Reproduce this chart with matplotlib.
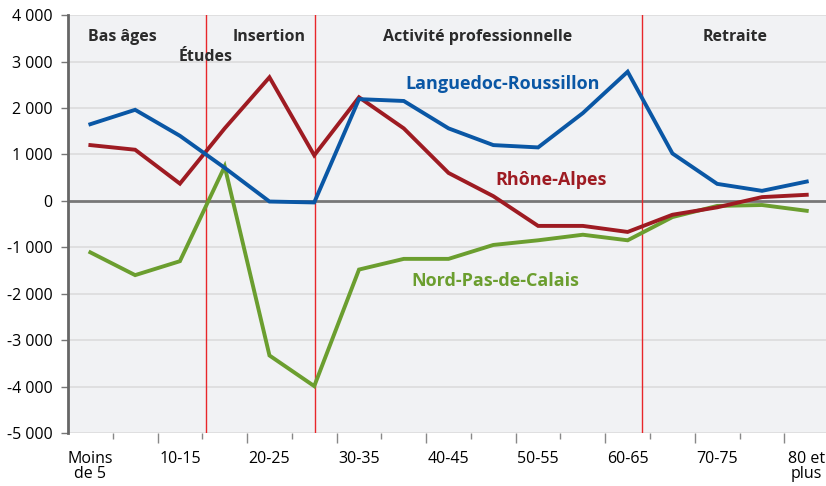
import matplotlib
matplotlib.use("Agg")
import matplotlib.pyplot as plt

categories = ["Moins de 5", "5-10", "10-15", "15-20", "20-25", "25-30", "30-35", "35-40",
              "40-45", "45-50", "50-55", "55-60", "60-65", "65-70", "70-75", "75-80", "80 et plus"]
tick_labels = ["Moins\nde 5", "10-15", "20-25", "30-35", "40-45", "50-55", "60-65", "70-75", "80 et\nplus"]

languedoc = [1650, 1960, 1400, 710, -15, -35, 2190, 2150, 1560, 1200, 1150, 1890, 2780, 1020, 365, 215, 415]
rhone = [1200, 1100, 370, 1560, 2660, 980, 2230, 1560, 600, 100, -540, -540, -670, -300, -140, 80, 130]
nord = [-1110, -1600, -1300, 740, -3330, -3990, -1480, -1250, -1250, -950, -850, -730, -850, -350, -110, -90, -215]

phase_bounds = [2.58, 5.02, 12.32]
phases = [("Bas âges", 0.72, 3530), ("Études", 2.58, 3100), ("Insertion", 4.0, 3530),
          ("Activité professionnelle", 8.65, 3530), ("Retraite", 14.4, 3530)]

yticks = list(range(-5000, 4001, 1000))

plt.rcParams['font.family'] = ['Open Sans', 'DejaVu Sans']

fig = plt.figure(figsize=(8.26, 4.86), dpi=100)
ax = fig.add_axes([0.0823, 0.109, 0.9177, 0.860])
ax.set_facecolor('#f1f2f4')

x = list(range(len(categories)))
ax.set_xlim(-0.5, 16.43)
ax.set_ylim(-5000, 4000)

for yv in yticks:
    if yv != 0:
        ax.axhline(yv, color='#dcdcdc', lw=1.2, zorder=1)
ax.axhline(0, color='#777777', lw=2, zorder=2)

for b in phase_bounds:
    ax.axvline(b, color='#e8262a', lw=1, zorder=3)

c_blue = '#0a57a5'
c_red = '#9e1b22'
c_green = '#6b9e2f'
ax.plot(x, nord, color=c_green, lw=2.8, zorder=4, solid_joinstyle='miter')
ax.plot(x, rhone, color=c_red, lw=2.8, zorder=5, solid_joinstyle='miter')
ax.plot(x, languedoc, color=c_blue, lw=2.8, zorder=6, solid_joinstyle='miter')

ax.text(9.2, 2520, "Languedoc-Roussillon", color=c_blue, fontsize=13, fontweight='bold', ha='center', va='center')
ax.text(10.28, 440, "Rhône-Alpes", color=c_red, fontsize=13, fontweight='bold', ha='center', va='center')
ax.text(9.05, -1730, "Nord-Pas-de-Calais", color=c_green, fontsize=13, fontweight='bold', ha='center', va='center')

for name, px, py in phases:
    ax.text(px, py, name, color='#2b2b2b', fontsize=11.5, fontweight='bold', ha='center', va='center')

# y axis
ax.set_yticks(yticks)
ax.set_yticklabels([f"{v:,}".replace(",", " ") for v in yticks], fontsize=11.5)
ax.tick_params(axis='y', length=5, width=1, color='#777777', pad=6)

# x axis: tick marks between categories, labels on every other category
half = [i + 0.5 for i in range(len(categories) - 1)]
ax.set_xticks(half)
ax.set_xticklabels([""] * len(half))
ax.tick_params(axis='x', which='major', width=1, color='#888888')
for i, t in enumerate(ax.xaxis.get_major_ticks()):
    t.tick1line.set_markersize(7 if i % 2 == 1 else 4)
ax.set_xticks(x[::2], minor=True)
ax.set_xticklabels(tick_labels, minor=True, fontsize=11.5, linespacing=0.95, va='top')
ax.tick_params(axis='x', which='minor', length=0, pad=13)

for s in ['top', 'right', 'bottom']:
    ax.spines[s].set_visible(False)
ax.spines['left'].set_color('#666666')
ax.spines['left'].set_linewidth(2)

fig.savefig("out.png", dpi=100)
